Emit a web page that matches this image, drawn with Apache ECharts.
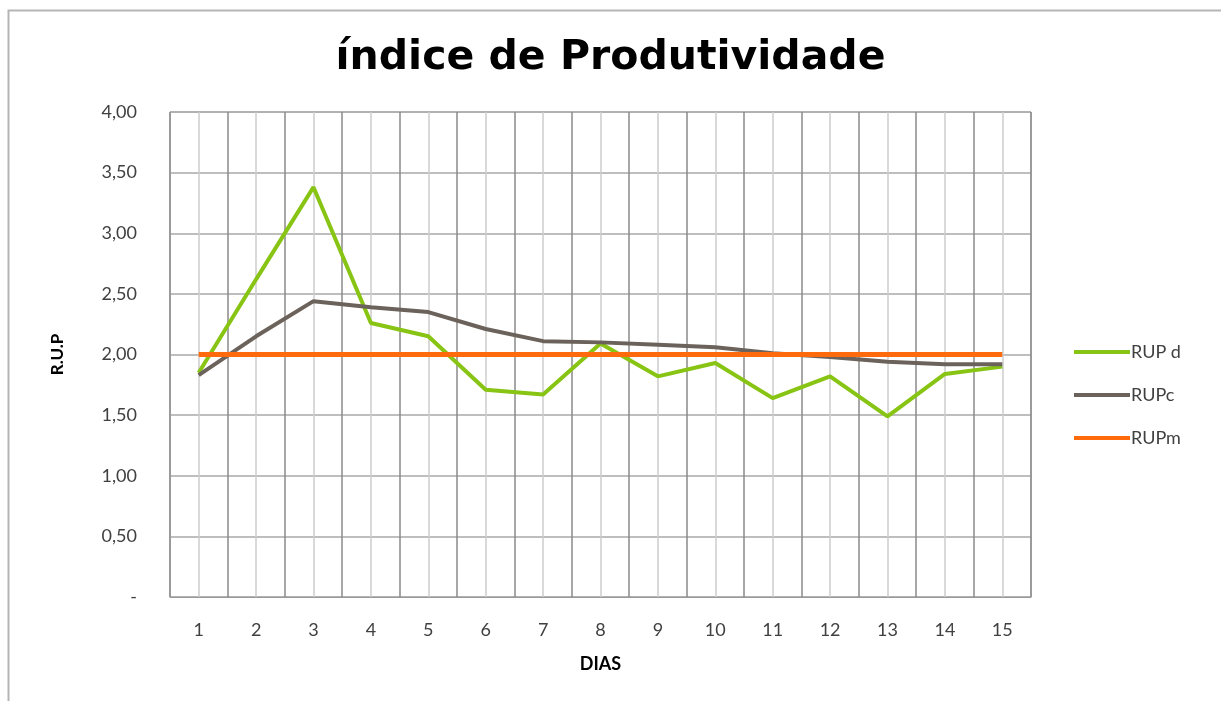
<!DOCTYPE html>
<html>
<head>
<meta charset="utf-8">
<title>índice de Produtividade</title>
<script src="https://cdn.jsdelivr.net/npm/echarts@6/dist/echarts.min.js"></script>
<style>
    html, body { margin: 0; padding: 0; background: #fff; }
    #chart { width: 1221px; height: 701px; }
</style>
</head>
<body>
<div id="chart"></div>
<script>
    // dados
    const dias = ['1', '2', '3', '4', '5', '6', '7', '8', '9', '10', '11', '12', '13', '14', '15'];
    const rupD = [1.85, 2.62, 3.38, 2.26, 2.15, 1.71, 1.67, 2.09, 1.82, 1.93, 1.64, 1.82, 1.49, 1.84, 1.90];
    const rupC = [1.83, 2.15, 2.44, 2.39, 2.35, 2.21, 2.11, 2.10, 2.08, 2.06, 2.01, 1.98, 1.94, 1.92, 1.92];
    const rupM = [2, 2, 2, 2, 2, 2, 2, 2, 2, 2, 2, 2, 2, 2, 2];
    const yTicks = [0, 0.5, 1, 1.5, 2, 2.5, 3, 3.5, 4];

    const font = 'Lato';
    const labelColor = '#404040';

    const chart = echarts.init(document.getElementById('chart'));

    const option = {
        backgroundColor: '#fff',
        animation: false,
        title: {
            text: 'índice de Produtividade',
            left: 'center',
            top: 33,
            textStyle: {
                fontFamily: 'DejaVu Sans',
                fontSize: 41,
                fontWeight: 'bold',
                color: '#000'
            }
        },
        legend: {
            orient: 'vertical',
            left: 1069,
            top: 338,
            icon: 'rect',
            itemWidth: 56,
            itemHeight: 4,
            itemGap: 25,
            textStyle: {
                fontFamily: font,
                fontSize: 18,
                color: labelColor,
                padding: [0, 0, 0, -4]
            },
            data: ['RUP d', 'RUPc', 'RUPm']
        },
        grid: {
            left: 170,
            right: 190,
            top: 112,
            bottom: 104,
            show: true,
            borderColor: '#9a9a9a',
            borderWidth: 1
        },
        xAxis: [
            {
                type: 'category',
                data: dias,
                boundaryGap: true,
                name: 'DIAS',
                nameLocation: 'middle',
                nameGap: 58,
                nameTextStyle: {
                    fontFamily: font,
                    fontSize: 18,
                    fontWeight: 'bold',
                    color: '#000'
                },
                axisLine: { lineStyle: { color: '#9a9a9a' } },
                axisTick: { show: false },
                axisLabel: {
                    margin: 24,
                    fontFamily: font,
                    fontSize: 18,
                    color: labelColor
                },
                splitLine: { show: false }
            },
            {
                // só para as linhas de grade verticais (fronteiras escuras + centros claros)
                type: 'value',
                min: 0,
                max: 30,
                interval: 1,
                position: 'bottom',
                axisLine: { show: false },
                axisTick: { show: false },
                axisLabel: { show: false },
                splitLine: {
                    show: true,
                    lineStyle: { color: ['#8a8a8a', '#cdcdcd'], width: 1.5 }
                }
            }
        ],
        yAxis: {
            type: 'value',
            min: yTicks[0],
            max: yTicks[yTicks.length - 1],
            interval: yTicks[1] - yTicks[0],
            name: 'R.U.P',
            nameLocation: 'middle',
            nameRotate: 90,
            nameGap: 104,
            nameTextStyle: {
                fontFamily: font,
                fontSize: 17,
                fontWeight: 'bold',
                color: '#000'
            },
            axisLine: { show: true, lineStyle: { color: '#9a9a9a' } },
            axisTick: { show: false },
            axisLabel: {
                margin: 33,
                fontFamily: font,
                fontSize: 18,
                color: labelColor,
                formatter: function (v) {
                    return v === 0 ? '-' : v.toFixed(2).replace('.', ',');
                }
            },
            splitLine: { lineStyle: { color: '#a8a8a8', width: 1.5 } }
        },
        graphic: [
            {
                type: 'polyline',
                shape: { points: [[8.5, 701], [8.5, 10.5], [1221, 10.5]] },
                style: { stroke: '#b5b5b5', lineWidth: 2, fill: null },
                silent: true
            }
        ],
        series: [
            {
                name: 'RUP d',
                type: 'line',
                data: rupD,
                symbol: 'none',
                lineStyle: { color: '#88C414', width: 4 },
                itemStyle: { color: '#88C414' }
            },
            {
                name: 'RUPc',
                type: 'line',
                data: rupC,
                symbol: 'none',
                lineStyle: { color: '#6B635B', width: 4 },
                itemStyle: { color: '#6B635B' }
            },
            {
                name: 'RUPm',
                type: 'line',
                data: rupM,
                symbol: 'none',
                lineStyle: { color: '#FF6A0C', width: 5 },
                itemStyle: { color: '#FF6A0C' }
            }
        ]
    };

    chart.setOption(option);
    window.addEventListener('resize', chart.resize);
</script>
</body>
</html>
